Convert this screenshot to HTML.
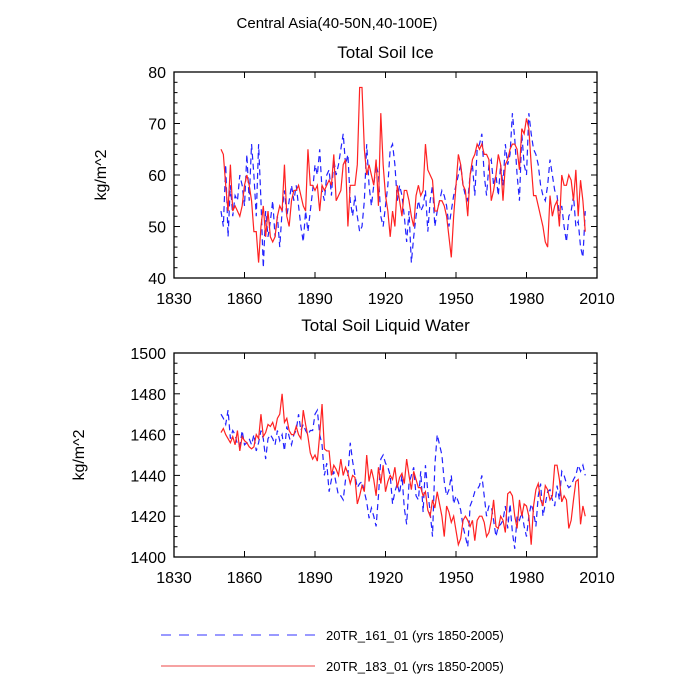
<!DOCTYPE html>
<html><head><meta charset="utf-8"><style>
html,body{margin:0;padding:0;background:#fff;}
svg{display:block;font-family:"Liberation Sans",sans-serif;}
</style></head><body>
<svg id="c" width="700" height="700" viewBox="0 0 700 700">
<text x="337" y="28" font-size="15" text-anchor="middle">Central Asia(40-50N,40-100E)</text>
<g id="p1"></g>
<g id="p2"></g>
<g>
<line x1="161" y1="635" x2="315" y2="635" stroke="#3333ff" stroke-width="1" stroke-dasharray="10,8"/>
<text x="326" y="640" font-size="13">20TR_161_01 (yrs 1850-2005)</text>
<line x1="161" y1="666" x2="315" y2="666" stroke="#ee4444" stroke-width="1"/>
<text x="326" y="671" font-size="13">20TR_183_01 (yrs 1850-2005)</text>
</g>
</svg>
<script>
const startYear = 1850;
const xTicks = [1830,1860,1890,1920,1950,1980,2010];
const iceTicks = [40,50,60,70,80];
const liqTicks = [1400,1420,1440,1460,1480,1500];
const iceRed = [65,64,58,53,62,53,54,53,52,54,58,60,58,55,49,49,43,50,54,48,53,48,47,48,52,54,53,62,52,50,55,57,57,58,56,54,53,65,58,58,57,58,53,58,57,58,59,58,64,55,56,57,62,63,50,58,58,58,62,77,77,65,60,62,60,58,63,54,72,62,56,53,48,53,50,58,55,52,57,57,55,52,50,56,58,56,57,66,61,60,59,53,53,55,55,54,52,48,44,52,58,64,62,58,57,52,60,63,64,66,65,66,64,64,63,55,57,60,64,62,55,62,63,65,66,66,65,61,69,68,71,69,62,56,56,54,52,50,47,46,56,52,54,55,50,60,58,58,60,59,55,61,52,59,55,49];
const iceBlue = [53,50,62,48,58,52,56,55,60,58,54,64,55,66,60,52,66,55,42,53,48,51,55,48,52,46,53,57,52,55,58,55,58,54,50,47,53,49,53,57,62,60,65,57,55,60,61,56,63,60,62,65,68,62,64,55,52,56,52,49,50,55,66,58,54,58,62,60,52,50,54,58,65,66,62,55,58,56,52,47,53,43,48,52,55,53,54,57,49,55,58,50,53,55,57,56,54,50,53,56,58,60,62,58,56,55,60,62,56,65,66,68,60,56,62,63,58,60,56,62,58,66,62,64,72,67,60,55,68,62,60,72,68,65,64,62,58,56,55,58,63,60,57,56,52,54,50,47,52,53,56,50,51,46,44,53];
const liqRed = [1461,1463,1460,1458,1456,1459,1455,1462,1452,1459,1457,1456,1454,1453,1454,1460,1458,1470,1459,1461,1465,1464,1466,1462,1468,1470,1480,1466,1468,1462,1460,1460,1464,1460,1458,1472,1465,1459,1451,1448,1450,1447,1460,1475,1453,1452,1452,1440,1445,1443,1440,1448,1440,1444,1441,1436,1440,1439,1426,1430,1435,1432,1450,1437,1443,1438,1430,1444,1436,1445,1432,1437,1440,1438,1444,1434,1439,1441,1436,1448,1440,1433,1442,1438,1434,1434,1430,1432,1423,1420,1428,1424,1432,1426,1420,1410,1425,1422,1417,1420,1413,1406,1409,1418,1420,1418,1415,1418,1408,1418,1420,1420,1417,1410,1412,1418,1428,1415,1414,1420,1418,1412,1431,1432,1430,1420,1414,1428,1420,1426,1425,1420,1406,1425,1433,1436,1428,1425,1435,1433,1428,1430,1445,1445,1438,1427,1430,1428,1414,1418,1428,1437,1438,1416,1425,1420];
const liqBlue = [1470,1468,1465,1472,1458,1462,1460,1455,1454,1462,1455,1456,1458,1455,1460,1452,1456,1462,1458,1448,1458,1460,1458,1455,1462,1457,1460,1452,1464,1459,1455,1460,1462,1470,1462,1465,1462,1460,1462,1462,1470,1472,1460,1455,1440,1446,1432,1438,1442,1436,1430,1430,1428,1438,1440,1456,1447,1440,1434,1436,1437,1432,1427,1419,1424,1420,1415,1430,1448,1450,1446,1444,1440,1426,1432,1436,1431,1440,1424,1416,1436,1440,1444,1430,1428,1442,1422,1445,1432,1422,1410,1445,1460,1455,1450,1437,1430,1433,1440,1426,1430,1427,1423,1415,1410,1405,1425,1428,1432,1433,1435,1440,1430,1420,1425,1425,1418,1410,1415,1416,1418,1425,1414,1426,1412,1404,1420,1418,1422,1415,1410,1420,1426,1422,1415,1430,1436,1420,1426,1432,1433,1428,1425,1435,1428,1442,1440,1436,1434,1435,1438,1440,1445,1442,1445,1440];

const NS='http://www.w3.org/2000/svg';
function mk(tag,attrs,parent){const e=document.createElementNS(NS,tag);for(const k in attrs)e.setAttribute(k,attrs[k]);parent.appendChild(e);return e;}
const X0=174,X1=597;
function xs(yr){return X0+(yr-1830)/(2010-1830)*(X1-X0);}

function panel(g,top,bot,ymin,ymax,yticks,minorStep,title,titleY,ylabelX,red,blue){
  const ys=v=>bot-(v-ymin)/(ymax-ymin)*(bot-top);
  function line(arr,color,dash,name){
    let d='';arr.forEach((v,i)=>{d+=(i?'L':'M')+xs(startYear+i).toFixed(2)+','+ys(v).toFixed(2);});
    const p=mk('path',{d:d,fill:'none',stroke:color,'stroke-width':1.2},g);
    if(dash)p.setAttribute('stroke-dasharray',dash);
    
    
  }
  line(blue,'#2222ff','6,4','series-161-line');
  line(red,'#ff2222',null,'series-183-line');
  const fr=mk('rect',{x:X0,y:top,width:X1-X0,height:bot-top,fill:'none',stroke:'#000','stroke-width':1.3},g);
  
  
  for(let v=ymin;v<=ymax+1e-9;v+=minorStep){
    const y=ys(v);const major=yticks.includes(v);const L=major?6:3.5;
    mk('line',{x1:X0,y1:y,x2:X0+L,y2:y,stroke:'#000','stroke-width':1},g);
    mk('line',{x1:X1,y1:y,x2:X1-L,y2:y,stroke:'#000','stroke-width':1},g);
  }
  yticks.forEach(v=>{
    const t=mk('text',{x:X0-8,y:ys(v)+6,'font-size':16,'text-anchor':'end'},g);t.textContent=v;
    
    
  });
  xTicks.forEach(yr=>{
    const x=xs(yr);
    mk('line',{x1:x,y1:bot,x2:x,y2:bot-6,stroke:'#000','stroke-width':1},g);
    mk('line',{x1:x,y1:top,x2:x,y2:top+6,stroke:'#000','stroke-width':1},g);
    const t=mk('text',{x:x,y:bot+26,'font-size':16,'text-anchor':'middle'},g);t.textContent=yr;
    
    
  });
  const tt=mk('text',{x:(X0+X1)/2,y:titleY,'font-size':17,'text-anchor':'middle'},g);tt.textContent=title;
  
  
  const yl=mk('text',{x:0,y:0,'font-size':16,'text-anchor':'middle',transform:'translate('+ylabelX+','+((top+bot)/2)+') rotate(-90)'},g);yl.textContent='kg/m^2';
  
  
}
panel(document.getElementById('p1'),72,278,40,80,iceTicks,2,'Total Soil Ice',58,106,iceRed,iceBlue);
panel(document.getElementById('p2'),353,557,1400,1500,liqTicks,5,'Total Soil Liquid Water',331,84,liqRed,liqBlue);
</script>
</body></html>
